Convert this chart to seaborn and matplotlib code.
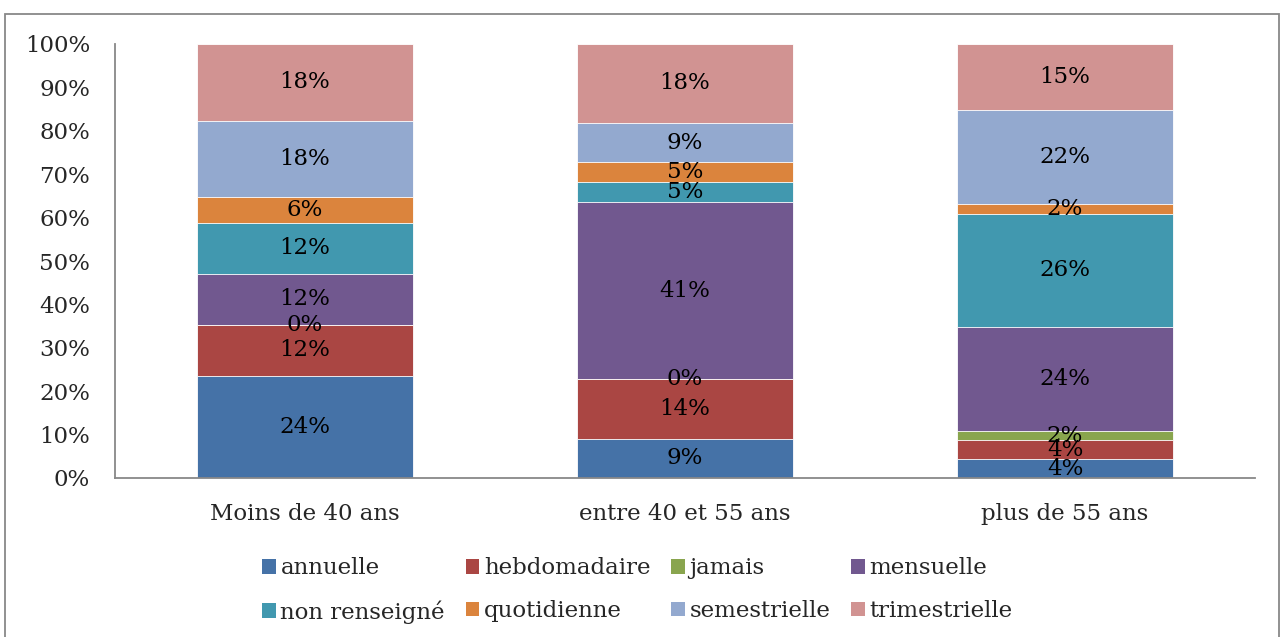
import matplotlib
matplotlib.use("Agg")
import matplotlib.pyplot as plt
from matplotlib.patches import Rectangle, Patch
import seaborn as sns
import pandas as pd
import numpy as np

categories = ["Moins de 40 ans", "entre 40 et 55 ans", "plus de 55 ans"]
series = ["annuelle", "hebdomadaire", "jamais", "mensuelle",
          "non renseigné", "quotidienne", "semestrielle", "trimestrielle"]
annuelle = [23.53, 9.09, 4.35]
hebdomadaire = [11.76, 13.64, 4.35]
jamais = [0.0, 0.0, 2.17]
mensuelle = [11.76, 40.91, 23.91]
non_renseigne = [11.76, 4.55, 26.09]
quotidienne = [5.88, 4.55, 2.17]
semestrielle = [17.65, 9.09, 21.74]
trimestrielle = [17.65, 18.18, 15.22]
colors = ["#4572A7", "#AA4643", "#89A54E", "#71588F",
          "#4198AF", "#DB843D", "#93A9CF", "#D19392"]
yticks = list(range(0, 101, 10))

values = [annuelle, hebdomadaire, jamais, mensuelle,
          non_renseigne, quotidienne, semestrielle, trimestrielle]

sns.set_style("white")
plt.rcParams["font.family"] = ["DejaVu Serif"]
FS = 16.5

fig = plt.figure(figsize=(12.82, 6.37), dpi=100)
ax = fig.add_axes([115 / 1282, 1 - 478 / 637, 1140 / 1282, 434 / 637])

arr = np.array(values)
cum = np.cumsum(arr, axis=0)
# draw cumulative bars from top series to bottom so lower ones overlay
for i in range(len(series) - 1, -1, -1):
    df = pd.DataFrame({"cat": categories, "val": cum[i]})
    sns.barplot(data=df, x="cat", y="val", order=categories, color=colors[i],
                saturation=1, width=0.57, ax=ax, edgecolor="white", linewidth=0.6)

for i in range(len(series)):
    for j in range(len(categories)):
        mid = cum[i][j] - arr[i][j] / 2
        ax.text(j, mid, f"{int(np.floor(arr[i][j] + 0.5))}%", ha="center",
                va="center", fontsize=FS, color="black")

ax.set_ylim(0, 100)
ax.set_xlim(-0.5, 2.5)
ax.set_yticks(yticks)
ax.set_yticklabels([f"{t}%" for t in yticks])
ax.tick_params(axis="y", length=0, pad=18, labelsize=FS)
ax.tick_params(axis="x", length=0, pad=18, labelsize=FS)
ax.set_xlabel("")
ax.set_ylabel("")
for s in ["top", "right"]:
    ax.spines[s].set_visible(False)
for s in ["left", "bottom"]:
    ax.spines[s].set_color("#888888")
    ax.spines[s].set_linewidth(1.3)

handles = [Patch(facecolor=c, edgecolor="none") for c in colors]
order = [0, 4, 1, 5, 2, 6, 3, 7]
fig.legend([handles[k] for k in order], [series[k] for k in order],
           loc="center", bbox_to_anchor=(0.497, 0.073),
           ncol=4, frameon=False, fontsize=FS, handlelength=0.6,
           handleheight=0.6, handletextpad=0.2, columnspacing=0.9,
           labelspacing=0.9)

fig.patches.append(Rectangle((5 / 1282, -0.01), 1274 / 1282, 1 - 14 / 637 + 0.01,
                             transform=fig.transFigure, fill=False,
                             edgecolor="#888888", linewidth=1.3))

fig.savefig("out.png", dpi=100)
